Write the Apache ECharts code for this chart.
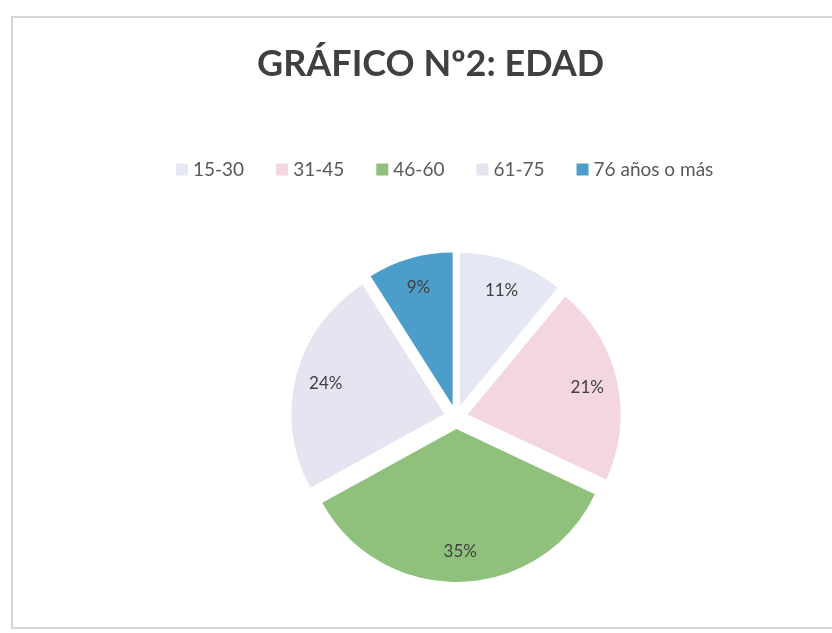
<!DOCTYPE html>
<html>
<head>
<meta charset="utf-8">
<script src="https://cdn.jsdelivr.net/npm/echarts@6/dist/echarts.min.js"></script>
<style>html,body{margin:0;padding:0;background:#fff}#c{width:832px;height:633px}</style>
</head>
<body>
<div id="c"></div>
<script>
const categories = ['15-30', '31-45', '46-60', '61-75', '76 años o más'];
const values = [11, 21, 35, 24, 9];
const colors = ['#e5e8f4', '#f3d6de', '#8fc17c', '#e6e4f0', '#4c9dc9'];
const titleText = 'GRÁFICO Nº2: EDAD';

const chart = echarts.init(document.getElementById('c'), null, {renderer: 'canvas'});
const pieData = categories.map((n, i) => ({name: n, value: values[i], selected: true, itemStyle: {color: colors[i]}}));
const labelData = categories.map((n, i) => ({name: n, value: values[i], selected: true}));
const center = [456, 417];
const R = 153;
chart.setOption({
  backgroundColor: '#ffffff',
  animation: false,
  title: {
    text: titleText, left: 252, top: 41,
    textStyle: {fontFamily: 'Lato', fontWeight: 'bold', fontSize: 36, color: '#404040'}
  },
  legend: {
    data: categories, top: 155, left: 171, itemWidth: 12, itemHeight: 12, itemGap: 32,
    icon: 'rect', selectedMode: false,
    textStyle: {fontFamily: 'Lato', fontSize: 19, color: '#595959'}
  },
  graphic: [{
    type: 'rect', shape: {x: 12, y: 17, width: 840, height: 611},
    style: {fill: 'none', stroke: '#c9c9c9', lineWidth: 1.5}, silent: true, z: -1
  }],
  series: [{
    type: 'pie', center: center, radius: [0, R], startAngle: 90, clockwise: true,
    selectedMode: 'multiple', selectedOffset: 12, avoidLabelOverlap: false,
    label: {show: false}, labelLine: {show: false},
    emphasis: {disabled: true},
    itemStyle: {borderWidth: 0},
    data: pieData
  }, {
    type: 'pie', center: center, radius: [Math.round(R * 0.56), R], startAngle: 90, clockwise: true,
    selectedMode: 'multiple', selectedOffset: 12, avoidLabelOverlap: false, silent: true,
    itemStyle: {color: 'rgba(0,0,0,0)', borderWidth: 0},
    label: {show: true, position: 'inside', formatter: '{d}%', fontFamily: 'Lato', fontSize: 17, color: '#404040'},
    labelLine: {show: false},
    emphasis: {disabled: true},
    data: labelData
  }]
});
</script>
</body>
</html>
